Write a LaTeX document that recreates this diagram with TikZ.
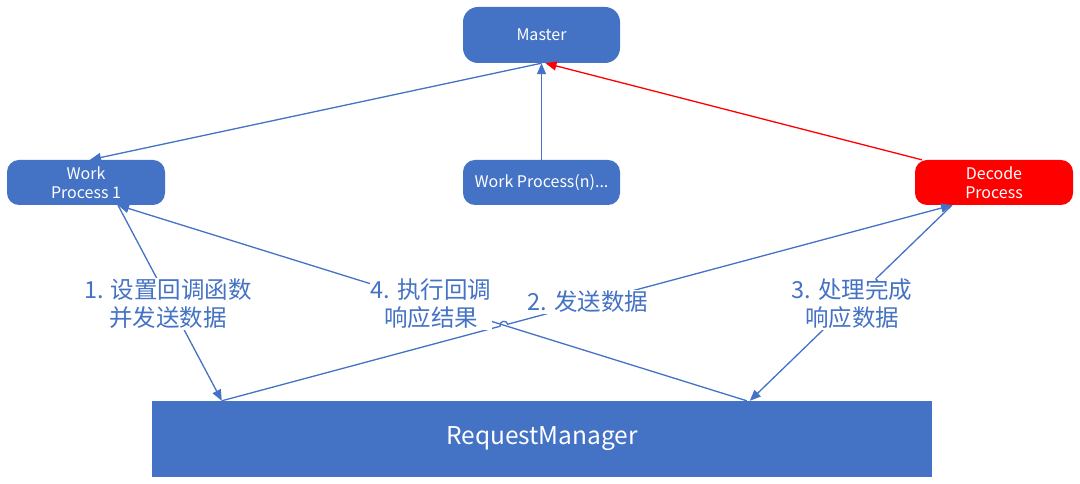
\documentclass[tikz,border=0pt]{standalone}
\usepackage{fontspec}
\setmainfont{Noto Sans CJK SC}
\usetikzlibrary{arrows.meta,calc,intersections}
\definecolor{bl}{HTML}{4472C4}
\definecolor{rd}{HTML}{FF0000}
\begin{document}
\begin{tikzpicture}[x=1pt,y=1pt,
 box/.style={draw=none, fill=bl, rounded corners=12pt, text=white, align=center, font=\fontsize{16}{19}\selectfont, inner sep=0pt},
 conn/.style={color=bl, line width=1.3pt, -{Triangle[length=11pt,width=9pt]}},
 lbl/.style={fill=white, text=bl, align=center, font=\fontsize{23.5}{28}\selectfont, inner sep=1pt}]
\fill[white] (0,0) rectangle (1080,484);
\useasboundingbox (0,0) rectangle (1080,484);
\node[box, rounded corners=15pt, minimum width=157pt, minimum height=56pt] (master) at (541.5,449) {Master};
\node[box, minimum width=158pt, minimum height=45pt] (wp1) at (86,301.5) {Work\\Process 1};
\node[box, minimum width=157pt, minimum height=45pt] (wpn) at (541.5,301.5) {Work Process(n)...};
\node[box, fill=rd, minimum width=158pt, minimum height=45pt] (dec) at (994,301.5) {Decode\\Process};
\node[box, rounded corners=0pt, minimum width=780pt, minimum height=76pt, font=\fontsize{24.5}{28}\selectfont] (rm) at (542,45) {RequestManager};
\coordinate (wpb) at ([xshift=32pt]wp1.south);
\coordinate (rmA) at ([xshift=70pt]rm.north west);
\coordinate (rmB) at ([xshift=595pt]rm.north west);
\coordinate (decb) at ([xshift=-42pt]dec.south);
\draw[conn] (master.south) -- ([xshift=4pt]wp1.north);
\draw[conn] (wpn.north) -- (master.south);
\draw[conn, color=rd] ([xshift=7pt]dec.north west) -- ([xshift=4pt]master.south);
\draw[conn] (wpb) -- (rmA);
\draw[conn, name path=l4] (rmB) -- (wpb);
\path[name path=l2] (rmA) -- (decb);
\path[name intersections={of=l2 and l4, by=X}];
\draw[conn] (rmA) -- ($(X)!4pt!(rmA)$) arc[start angle=195, end angle=15, radius=4pt] -- (decb);
\draw[conn] (decb) -- ([xshift=3pt]rmB);
\node[lbl] (t1) at (168,180) {1. 设置回调函数\\并发送数据};
\node[lbl] (t4) at (431,180) {4. 执行回调\\响应结果};
\node[lbl] (t2) at (588,182) {2. 发送数据};
\node[lbl] (t3) at (852,180) {3. 处理完成\\响应数据};
\end{tikzpicture}
\end{document}
